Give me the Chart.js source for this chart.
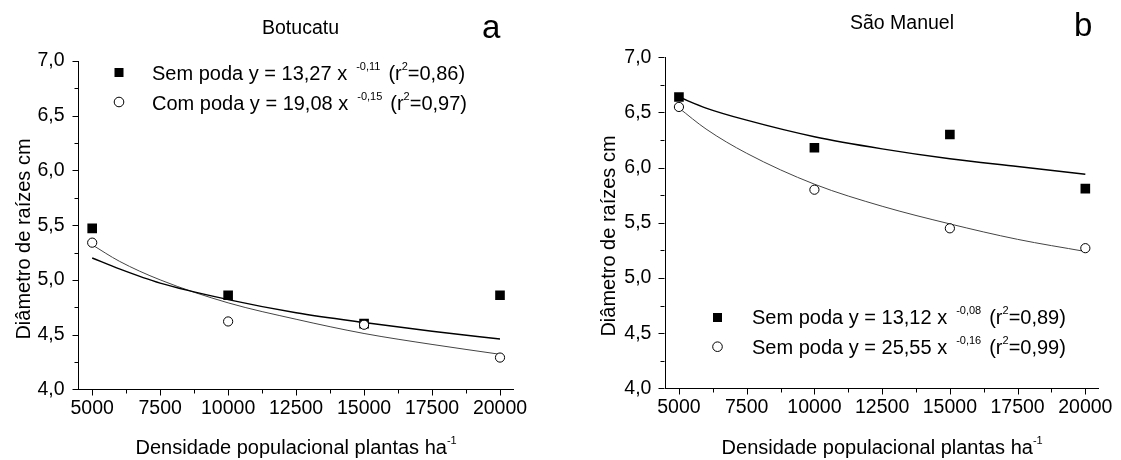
<!DOCTYPE html>
<html>
<head>
<meta charset="utf-8">
<script src="https://cdn.jsdelivr.net/npm/chart.js@4/dist/chart.umd.min.js"></script>
<style>
html,body{margin:0;padding:0;background:#fff;}
#wrap{position:relative;width:1121px;height:460px;overflow:hidden;}
canvas{position:absolute;top:0;}
</style>
</head>
<body>
<div id="wrap">
<canvas id="c1" width="560" height="460" style="left:0;width:560px;height:460px"></canvas>
<canvas id="c2" width="561" height="460" style="left:560px;width:561px;height:460px"></canvas>
</div>
<script>
// ---- data ----
const densities = [5000, 10000, 15000, 20000];
const botSemPoda = [5.47, 4.86, 4.60, 4.86];
const botComPoda = [5.34, 4.62, 4.59, 4.29];
const smSemPodaA = [6.64, 6.18, 6.30, 5.81];
const smSemPodaB = [6.55, 5.80, 5.45, 5.27];

const fitDensities = [5000, 6000, 7500, 10000, 12500, 15000, 17500, 20000];
const botSemFit = [5.20, 5.10, 4.97, 4.82, 4.70, 4.61, 4.53, 4.46];
const botComFit = [5.32, 5.17, 5.00, 4.79, 4.64, 4.51, 4.41, 4.32];
const smFitA = [6.64, 6.54, 6.43, 6.28, 6.17, 6.08, 6.01, 5.94];
const smFitB = [6.54, 6.35, 6.13, 5.85, 5.65, 5.49, 5.35, 5.24];

const xTickValues = [5000, 7500, 10000, 12500, 15000, 17500, 20000];
const yTickValues = [4.0, 4.5, 5.0, 5.5, 6.0, 6.5, 7.0];

const panelTitles = ['Botucatu', 'São Manuel'];
const panelLetters = ['a', 'b'];
const yAxisTitle = 'Diâmetro de raízes cm';
const xAxisTitle = 'Densidade populacional plantas ha';
const xAxisTitleSup = '-1';
// [label, exponent, r²]
const legendBotucatu = [['Sem poda y = 13,27 x', '-0,11', '0,86'], ['Com poda y = 19,08 x', '-0,15', '0,97']];
const legendSaoManuel = [['Sem poda y = 13,12 x', '-0,08', '0,89'], ['Sem poda y = 25,55 x', '-0,16', '0,99']];

// ---- helpers ----
const FAMILY = '"Liberation Sans", Arial, Helvetica, sans-serif';
const pts = (xs, ys) => xs.map((x, i) => ({x: x, y: ys[i]}));

// segs: [text, isSup] or a number (extra gap in px)
function drawRich(ctx, x, y, segs, size, supSize, raise) {
  let cx = x;
  ctx.textAlign = 'left';
  ctx.textBaseline = 'alphabetic';
  for (const s of segs) {
    if (typeof s === 'number') { cx += s; continue; }
    const [t, sup] = s;
    ctx.font = (sup ? supSize : size) + 'px ' + FAMILY;
    ctx.fillText(t, cx, sup ? y - raise : y);
    cx += ctx.measureText(t).width;
  }
  return cx;
}

function legendSegs(entry) {
  return [[entry[0], false], 9, [entry[1], true], 8, ['(r', false], ['2', true], ['=' + entry[2] + ')', false]];
}

function makeDecor(cfg) {
  return {
    id: 'decor' + cfg.id,
    afterDraw(chart) {
      const ctx = chart.ctx;
      const xs = chart.scales.x, ys = chart.scales.y;
      const area = chart.chartArea;
      ctx.save();
      ctx.strokeStyle = '#000';
      ctx.lineWidth = 1;
      // major & minor ticks (outward)
      const xv = xTickValues, yv = yTickValues;
      const bottom = Math.round(area.bottom) + 0.5;
      const left = Math.round(area.left) - 0.5;
      ctx.beginPath();
      xv.forEach((v, i) => {
        const p = Math.round(xs.getPixelForValue(v)) + 0.5;
        ctx.moveTo(p, bottom); ctx.lineTo(p, bottom + 6);
        if (i < xv.length - 1) {
          const m = Math.round(xs.getPixelForValue((v + xv[i + 1]) / 2)) + 0.5;
          ctx.moveTo(m, bottom); ctx.lineTo(m, bottom + 4);
        }
      });
      yv.forEach((v, i) => {
        const p = Math.round(ys.getPixelForValue(v)) + 0.5;
        ctx.moveTo(left, p); ctx.lineTo(left - 6, p);
        if (i < yv.length - 1) {
          const m = Math.round(ys.getPixelForValue((v + yv[i + 1]) / 2)) + 0.5;
          ctx.moveTo(left, m); ctx.lineTo(left - 4, m);
        }
      });
      ctx.stroke();

      ctx.fillStyle = '#000';
      // panel title
      ctx.font = '19.5px ' + FAMILY;
      ctx.textAlign = 'center';
      ctx.textBaseline = 'alphabetic';
      ctx.fillText(cfg.title, cfg.titleX, cfg.titleY);
      // panel letter
      ctx.font = '33px ' + FAMILY;
      ctx.textAlign = 'left';
      ctx.fillText(cfg.letter, cfg.letterX, cfg.letterY);
      // y axis title
      ctx.save();
      ctx.translate(cfg.yTitleX, cfg.yTitleY);
      ctx.rotate(-Math.PI / 2);
      ctx.font = '20px ' + FAMILY;
      ctx.textAlign = 'center';
      ctx.textBaseline = 'alphabetic';
      ctx.fillText(yAxisTitle, 0, 0);
      ctx.restore();
      // x axis title with superscript
      ctx.font = '20px ' + FAMILY;
      const w1 = ctx.measureText(xAxisTitle).width;
      ctx.font = '11px ' + FAMILY;
      const w2 = ctx.measureText(xAxisTitleSup).width;
      const cx = (area.left + area.right) / 2;
      drawRich(ctx, cx - (w1 + w2) / 2, cfg.xTitleY, [[xAxisTitle, false], [xAxisTitleSup, true]], 20, 11, 10);
      // legend
      cfg.legend.forEach((entry, i) => {
        const my = cfg.legY[i];
        if (i === 0) {
          ctx.fillStyle = '#000';
          ctx.fillRect(cfg.legMarkX - 4.5, my - 4.5, 9, 9);
        } else {
          ctx.beginPath();
          ctx.arc(cfg.legMarkX, my, 4.8, 0, Math.PI * 2);
          ctx.fillStyle = '#fff';
          ctx.fill();
          ctx.strokeStyle = '#000';
          ctx.lineWidth = 1;
          ctx.stroke();
        }
        ctx.fillStyle = '#000';
        drawRich(ctx, cfg.legTextX, cfg.legBase[i], legendSegs(entry), 20, 11, 10);
      });
      ctx.restore();
    }
  };
}

function makeChart(canvasId, cfg) {
  const datasets = [
    {data: pts(densities, cfg.circles), pointStyle: 'circle', pointRadius: 4.6, pointHoverRadius: 4.6,
     backgroundColor: '#fff', borderColor: '#000', borderWidth: 1, showLine: false},
    {data: pts(densities, cfg.squares), pointStyle: 'rect', pointRadius: 6.8, pointHoverRadius: 6.8,
     backgroundColor: '#000', borderColor: '#000', borderWidth: 0, showLine: false},
    {data: pts(fitDensities, cfg.fitSq), showLine: true, pointRadius: 0, borderColor: '#000', borderWidth: 1.4,
     cubicInterpolationMode: 'monotone', fill: false},
    {data: pts(fitDensities, cfg.fitCi), showLine: true, pointRadius: 0, borderColor: '#444', borderWidth: 1,
     cubicInterpolationMode: 'monotone', fill: false}
  ];
  return new Chart(document.getElementById(canvasId), {
    type: 'scatter',
    data: {datasets},
    options: {
      responsive: false,
      animation: false,
      devicePixelRatio: 1,
      events: [],
      layout: {padding: {left: 0, top: cfg.top, right: cfg.rightPad, bottom: 0}},
      plugins: {legend: {display: false}, tooltip: {enabled: false}, title: {display: false}},
      scales: {
        x: {
          type: 'linear', min: 4500, max: 20500,
          afterBuildTicks: s => { s.ticks = xTickValues.map(v => ({value: v})); },
          afterFit: s => { s.height = cfg.xHeight; },
          grid: {display: false, drawTicks: false},
          border: {display: true, color: '#000', width: 1},
          ticks: {autoSkip: false, maxRotation: 0, padding: 8, color: '#000',
                  font: {family: FAMILY, size: 19.5}, callback: v => String(v)}
        },
        y: {
          type: 'linear', min: 4, max: 7,
          afterBuildTicks: s => { s.ticks = yTickValues.map(v => ({value: v})); },
          afterFit: s => { s.width = cfg.yWidth; },
          grid: {display: false, drawTicks: false},
          border: {display: true, color: '#000', width: 1},
          ticks: {padding: 14, color: '#000', font: {family: FAMILY, size: 19.5},
                  callback: v => Number(v).toFixed(1).replace('.', ',')}
        }
      }
    },
    plugins: [makeDecor(cfg)]
  });
}

makeChart('c1', {
  id: 1, squares: botSemPoda, circles: botComPoda, fitSq: botSemFit, fitCi: botComFit,
  top: 61, rightPad: 46.4, xHeight: 70.7, yWidth: 78.6,
  title: panelTitles[0], titleX: 300.5, titleY: 34,
  letter: panelLetters[0], letterX: 482, letterY: 38,
  yTitleX: 29.5, yTitleY: 239, xTitleY: 454,
  legend: legendBotucatu, legMarkX: 119, legY: [72.5, 102], legTextX: 152, legBase: [80, 109.5]
});
makeChart('c2', {
  id: 2, squares: smSemPodaA, circles: smSemPodaB, fitSq: smFitA, fitCi: smFitB,
  top: 57.3, rightPad: 17.8, xHeight: 71.7, yWidth: 105.4,
  title: panelTitles[1], titleX: 902 - 560, titleY: 28.5,
  letter: panelLetters[1], letterX: 1074 - 560, letterY: 36,
  yTitleX: 614.5 - 560, yTitleY: 236, xTitleY: 454,
  legend: legendSaoManuel, legMarkX: 717.5 - 560, legY: [317.5, 346.7], legTextX: 752 - 560, legBase: [324, 353.5]
});
</script>
</body>
</html>
